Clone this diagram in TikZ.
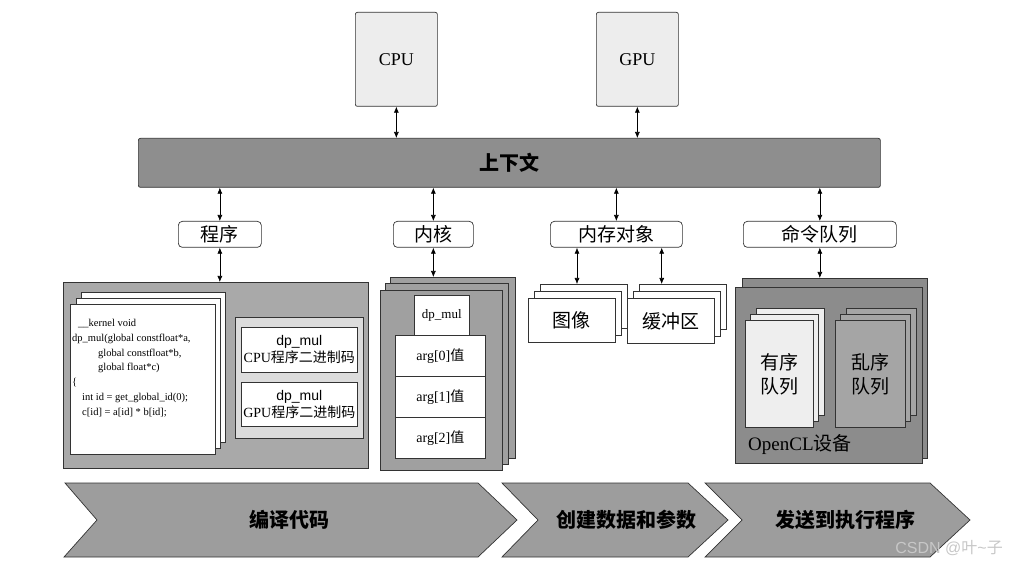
\documentclass[tikz,border=0pt]{standalone}
\usepackage{fontspec}
\setmainfont{Liberation Serif}
\setsansfont{Liberation Sans}
\newfontfamily\cjk{Noto Sans CJK SC}
\usetikzlibrary{positioning,calc,arrows.meta}

\definecolor{ctxfill}{HTML}{8E8E8E}
\definecolor{chevfill}{HTML}{9D9D9D}
\definecolor{progfill}{HTML}{A9A9A9}
\definecolor{kernfill}{HTML}{A0A0A0}
\definecolor{devfill}{HTML}{8C8C8C}
\definecolor{innerfill}{HTML}{DCDCDC}
\definecolor{cpufill}{HTML}{EDEDED}
\definecolor{ordfill}{HTML}{EEEEEE}
\definecolor{disfill}{HTML}{A5A5A5}

\begin{document}
\begin{tikzpicture}[x=1pt,y=-1pt,
box/.style={draw=black!80,line width=0.7pt,inner sep=0pt,anchor=north west},
page/.style={box,fill=white},
lbl/.style={box,rounded corners=4pt,fill=white,minimum height=26pt,font=\fontsize{19}{19}\cjk},
link/.style={{Latex[length=6pt,width=5pt]}-{Latex[length=6pt,width=5pt]},line width=0.6pt},
chev/.style={draw=black!80,line width=0.7pt,fill=chevfill},
chevtxt/.style={font=\fontsize{20}{20}\cjk\bfseries}]
\useasboundingbox (0,0) rectangle (1017,569);

% hosts and context
\node[box,fill=cpufill,rounded corners=2pt,minimum width=82pt,minimum height=94pt,
  font=\fontsize{18}{18}\selectfont] (cpu) at (355,12) {CPU};
\node[box,fill=cpufill,rounded corners=2pt,minimum width=82pt,minimum height=94pt,
  font=\fontsize{18}{18}\selectfont] (gpu) at (596,12) {GPU};
\node[box,fill=ctxfill,rounded corners=2pt,minimum width=742pt,minimum height=49pt,
  font=\fontsize{20}{20}\cjk\bfseries] (ctx) at (138,138) {上下文};
\draw[link] (cpu.south) -- (cpu.south |- ctx.north);
\draw[link] (gpu.south) -- (gpu.south |- ctx.north);

% labels
\node[lbl,minimum width=83pt] (prog) at (178,221) {程序};
\node[lbl,minimum width=80pt] (kern) at (393,221) {内核};
\node[lbl,minimum width=132pt] (mem) at (550,221) {内存对象};
\node[lbl,minimum width=153pt] (queue) at (743,221) {命令队列};
\foreach \L in {prog,kern,mem,queue}
  \draw[link] (\L.north) -- (\L.north |- ctx.south);

% program
\node[box,fill=progfill,minimum width=305pt,minimum height=186pt] (progpanel) at (63,282) {};
\node[page,minimum width=144pt,minimum height=150pt] (src3) at (81,292) {};
\node[page,minimum width=144pt,minimum height=150pt] (src2) at (76,298) {};
\node[page,minimum width=145pt,minimum height=150pt] (src1) at (70,304) {};
\node[anchor=north west,inner sep=0pt,align=left,font=\fontsize{10.5}{14.8}\selectfont] (code) at (72,319)
{\hspace*{6pt}\_\_kernel void\\
dp\_mul(global constfloat*a,\\
\hspace*{26pt}global constfloat*b,\\
\hspace*{26pt}global float*c)\\
\{\\
\hspace*{10pt}int id = get\_global\_id(0);\\
\hspace*{10pt}c[id] = a[id] * b[id];};
\node[box,fill=innerfill,minimum width=128pt,minimum height=121pt] (bin) at (235,317) {};
\node[page,minimum width=116pt,minimum height=45pt,align=center,font=\fontsize{14}{17}\selectfont]
  (cpubin) at (241,327) {{\sffamily dp\_mul}\\CPU{\cjk 程序二进制码}};
\node[page,minimum width=116pt,minimum height=44pt,align=center,font=\fontsize{14}{17}\selectfont]
  (gpubin) at (241,382) {{\sffamily dp\_mul}\\GPU{\cjk 程序二进制码}};
\draw[link] (prog.south) -- (prog.south |- progpanel.north);

% kernel
\node[box,fill=kernfill,minimum width=125pt,minimum height=181pt] (kp3) at (390,277) {};
\node[box,fill=kernfill,minimum width=123pt,minimum height=181pt] (kp2) at (385,283) {};
\node[box,fill=kernfill,minimum width=122pt,minimum height=180pt] (kp1) at (380,290) {};
\node[page,minimum width=55pt,minimum height=40pt,font=\fontsize{13}{13}\selectfont] (fn) at (414,295) {dp\_mul};
\foreach \i/\y in {0/335,1/376,2/417}
  \node[page,minimum width=90pt,minimum height=41pt,font=\fontsize{14}{14}\selectfont]
    (arg\i) at (395,\y) {arg[\i]{\cjk 值}};
\draw[link] (kern.south) -- (kern.south |- kp3.north);

% memory objects
\foreach \n/\x in {3/540,2/534,1/528}
  \node[page,minimum width=87pt,minimum height=44pt,font=\fontsize{19}{19}\cjk]
    (img\n) at (\x,{298-7*(\n-1)}) {\ifnum\n=1 图像\fi};
\foreach \n/\x in {3/639,2/633,1/627}
  \node[page,minimum width=87pt,minimum height=45pt,font=\fontsize{19}{19}\cjk]
    (buf\n) at (\x,{298-7*(\n-1)}) {\ifnum\n=1 缓冲区\fi};
\draw[link] ([xshift=27pt]mem.south west) -- ([xshift=27pt]mem.south west |- img3.north);
\draw[link] ([xshift=-21pt]mem.south east) -- ([xshift=-21pt]mem.south east |- buf3.north);

% command queues
\node[box,fill=devfill,minimum width=185pt,minimum height=180pt] (dev2) at (742,278) {};
\node[box,fill=devfill,minimum width=187pt,minimum height=176pt] (dev1) at (735,287) {};
\foreach \n/\x in {3/756,2/750,1/745}
  \node[box,fill=ordfill,minimum width=68pt,minimum height=107pt,align=center,
    font=\fontsize{19}{24}\cjk] (ord\n) at (\x,{320-6*(\n-1)}) {\ifnum\n=1 有序\\队列\fi};
\foreach \n/\x in {3/846,2/840,1/835}
  \node[box,fill=disfill,minimum width=70pt,minimum height=107pt,align=center,
    font=\fontsize{19}{24}\cjk] (dis\n) at (\x,{320-6*(\n-1)}) {\ifnum\n=1 乱序\\队列\fi};
\node[anchor=west,inner sep=0pt,font=\fontsize{19}{19}\selectfont] (devname) at (748,445) {OpenCL{\cjk 设备}};
\draw[link] (queue.south) -- (queue.south |- dev2.north);

% steps
\draw[chev] (65,483) -- (478,483) -- (517,520) -- (478,557) -- (64,557) -- (97,520) -- cycle;
\draw[chev] (502,483) -- (688,483) -- (728,520) -- (688,557) -- (502,557) -- (538,520) -- cycle;
\draw[chev] (705,483) -- (930,483) -- (970,520) -- (930,557) -- (705,557) -- (742,520) -- cycle;
\node[chevtxt] (step1) at (289,520) {编译代码};
\node[chevtxt] (step2) at (626,520) {创建数据和参数};
\node[chevtxt] (step3) at (845,520) {发送到执行程序};

\node[anchor=east,inner sep=0pt,text=black!22,font=\fontsize{16}{16}\sffamily] (mark) at (1003,548)
  {CSDN @{\cjk 叶}\textasciitilde{\cjk 子}};
\end{tikzpicture}
\end{document}
